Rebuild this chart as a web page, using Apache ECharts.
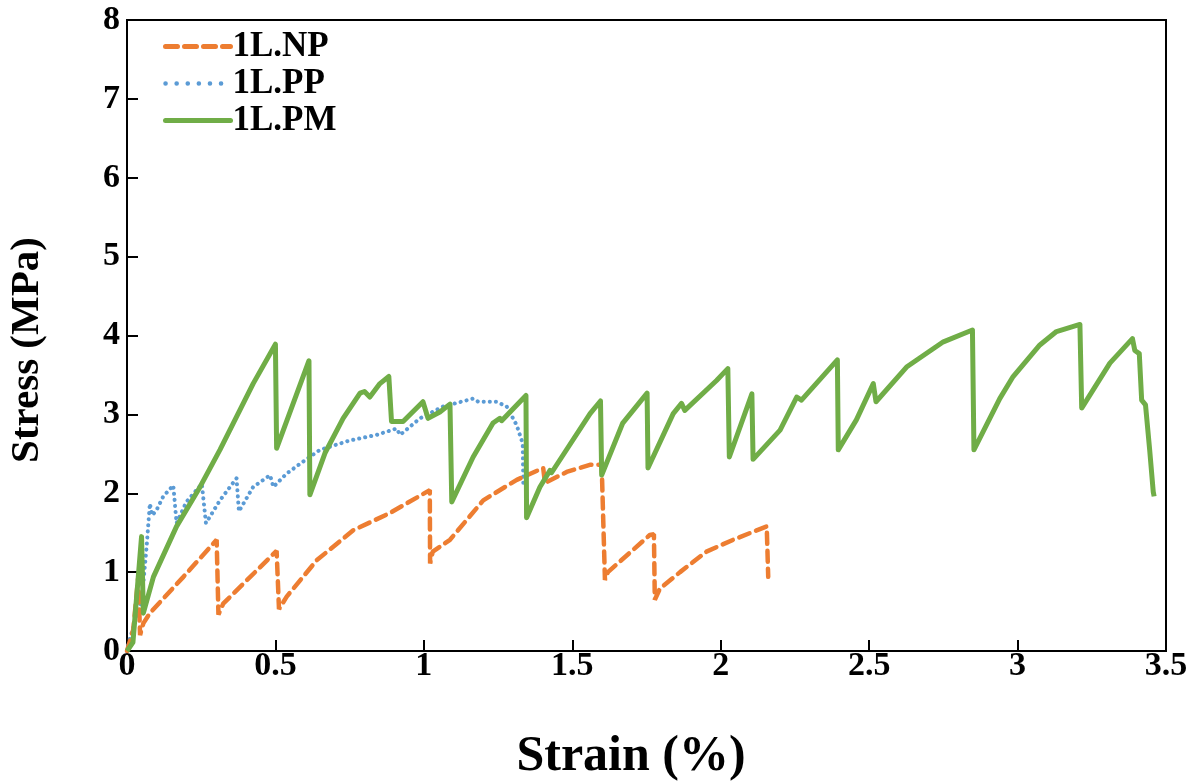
<!DOCTYPE html>
<html>
<head>
<meta charset="utf-8">
<script src="https://cdn.jsdelivr.net/npm/echarts@6/dist/echarts.min.js"></script>
<style>
html,body{margin:0;padding:0;background:#fff;}
#chart{width:1194px;height:783px;}
</style>
</head>
<body>
<div id="chart"></div>
<script>
// ---- Data ----
const seriesNames = ['1L.NP', '1L.PP', '1L.PM'];
const xTicks = [0, 0.5, 1, 1.5, 2, 2.5, 3, 3.5];
const yTicks = [0, 1, 2, 3, 4, 5, 6, 7, 8];

const npStrain = [0, 0.021, 0.038, 0.044, 0.055, 0.077, 0.19, 0.302, 0.308, 0.324, 0.504, 0.512, 0.538, 0.639, 0.762, 0.886, 1.02, 1.021, 1.03, 1.088, 1.2, 1.313, 1.402, 1.408, 1.481, 1.559, 1.599, 1.61, 1.62, 1.761, 1.775, 1.778, 1.795, 1.863, 1.952, 2.042, 2.155, 2.16];
const npStress = [0, 0.27, 0.94, 0.2, 0.35, 0.48, 0.94, 1.41, 0.46, 0.6, 1.27, 0.53, 0.69, 1.15, 1.53, 1.75, 2.04, 1.11, 1.26, 1.41, 1.91, 2.17, 2.32, 2.13, 2.27, 2.36, 2.36, 0.9, 1.0, 1.47, 1.48, 0.65, 0.79, 1.0, 1.26, 1.41, 1.58, 0.94];

const ppStrain = [0, 0.005, 0.05, 0.066, 0.077, 0.085, 0.1, 0.122, 0.156, 0.162, 0.167, 0.2, 0.252, 0.266, 0.313, 0.369, 0.377, 0.425, 0.482, 0.493, 0.538, 0.6, 0.65, 0.751, 0.841, 0.908, 0.92, 0.987, 1.065, 1.166, 1.183, 1.245, 1.279, 1.313, 1.333, 1.335];
const ppStress = [0, 0.1, 0.65, 1.32, 1.87, 1.72, 1.79, 1.96, 2.1, 2.1, 1.62, 1.89, 2.12, 1.62, 1.91, 2.19, 1.77, 2.08, 2.23, 2.08, 2.25, 2.42, 2.55, 2.67, 2.74, 2.82, 2.74, 2.95, 3.1, 3.2, 3.16, 3.16, 3.1, 2.86, 2.63, 2.12];

const pmStrain = [0, 0.02, 0.049, 0.055, 0.089, 0.167, 0.246, 0.313, 0.425, 0.5, 0.504, 0.613, 0.616, 0.667, 0.728, 0.785, 0.8, 0.818, 0.852, 0.882, 0.891, 0.93, 0.997, 1.014, 1.054, 1.088, 1.094, 1.166, 1.233, 1.256, 1.262, 1.344, 1.346, 1.391, 1.425, 1.43, 1.56, 1.595, 1.599, 1.67, 1.752, 1.755, 1.84, 1.868, 1.879, 1.986, 2.024, 2.029, 2.105, 2.109, 2.2, 2.256, 2.272, 2.393, 2.396, 2.457, 2.514, 2.523, 2.626, 2.75, 2.848, 2.853, 2.94, 2.985, 3.075, 3.131, 3.21, 3.216, 3.311, 3.387, 3.395, 3.41, 3.418, 3.431, 3.445, 3.457, 3.46];
const pmStress = [0, 0.11, 1.45, 0.48, 0.94, 1.58, 2.08, 2.55, 3.39, 3.89, 2.57, 3.68, 1.98, 2.51, 2.95, 3.27, 3.29, 3.22, 3.39, 3.48, 2.91, 2.91, 3.16, 2.95, 3.03, 3.13, 1.89, 2.46, 2.89, 2.95, 2.92, 3.24, 1.69, 2.08, 2.29, 2.26, 3.01, 3.17, 2.23, 2.89, 3.27, 2.32, 3.01, 3.14, 3.05, 3.43, 3.58, 2.46, 3.26, 2.43, 2.8, 3.22, 3.18, 3.69, 2.55, 2.93, 3.39, 3.16, 3.6, 3.92, 4.07, 2.55, 3.2, 3.48, 3.88, 4.05, 4.14, 3.08, 3.65, 3.96, 3.81, 3.77, 3.18, 3.12, 2.55, 2.02, 1.96];

const zip = (xs, ys) => xs.map((x, i) => [x, ys[i]]);

const FONT = '"Liberation Serif", "Times New Roman", serif';
const chart = echarts.init(document.getElementById('chart'), null, {renderer: 'canvas'});

chart.setOption({
  backgroundColor: '#fff',
  animation: false,
  grid: {left: 127, right: 28, top: 20, bottom: 132, outerBoundsMode: 'none', containLabel: false,
    show: true, borderColor: '#000', borderWidth: 2, backgroundColor: 'transparent'},
  legend: {
    orient: 'vertical', left: 158, top: 24,
    itemWidth: 65, itemHeight: 14, itemGap: 2,
    itemStyle: {opacity: 0},
    textStyle: {fontFamily: FONT, fontWeight: 'bold', fontSize: 35, lineHeight: 35, color: '#000', padding: [0, 0, 0, -3]},
    data: [
      {name: seriesNames[0], lineStyle: {width: 5, type: [12, 7], cap: 'round', color: '#ED7D31'}},
      {name: seriesNames[1], lineStyle: {width: 4.5, type: [0.1, 11], cap: 'round', color: '#5B9BD5'}},
      {name: seriesNames[2], lineStyle: {width: 5, type: 'solid', cap: 'round', color: '#70AD47'}}
    ]
  },
  xAxis: {
    type: 'value', min: 0, max: 3.5, interval: 0.5,
    name: 'Strain (%)', nameLocation: 'middle', nameGap: 81,
    nameTextStyle: {fontFamily: FONT, fontWeight: 'bold', fontSize: 50, color: '#000', padding: [0, 31, 0, 0]},
    axisLine: {show: true, lineStyle: {color: '#000', width: 2}},
    axisTick: {show: true, inside: true, length: 11, lineStyle: {color: '#000', width: 2}},
    axisLabel: {margin: -2, fontFamily: FONT, fontWeight: 'bold', fontSize: 34, color: '#000',
      formatter: v => xTicks.includes(v) ? String(v) : ''},
    splitLine: {show: false}
  },
  yAxis: {
    type: 'value', min: 0, max: 8, interval: 1,
    name: 'Stress (MPa)', nameLocation: 'middle', nameGap: 79,
    nameTextStyle: {fontFamily: FONT, fontWeight: 'bold', fontSize: 41, color: '#000', padding: [0, 29, 0, 0]},
    axisLine: {show: true, lineStyle: {color: '#000', width: 2}},
    axisTick: {show: true, inside: true, length: 11, lineStyle: {color: '#000', width: 2}},
    axisLabel: {margin: 7, fontFamily: FONT, fontWeight: 'bold', fontSize: 34, color: '#000',
      formatter: v => yTicks.includes(v) ? String(v) : ''},
    splitLine: {show: false}
  },
  series: [
    {name: seriesNames[0], type: 'line', data: zip(npStrain, npStress), symbol: 'none', z: 3,
      lineStyle: {color: '#ED7D31', width: 4.5, type: [11, 7], cap: 'round'}, itemStyle: {color: '#ED7D31'}},
    {name: seriesNames[1], type: 'line', data: zip(ppStrain, ppStress), symbol: 'none', z: 2,
      lineStyle: {color: '#5B9BD5', width: 4, type: [0.1, 6], cap: 'round'}, itemStyle: {color: '#5B9BD5'}},
    {name: seriesNames[2], type: 'line', data: zip(pmStrain, pmStress), symbol: 'none', z: 4,
      lineStyle: {color: '#70AD47', width: 5, type: 'solid', join: 'round'}, itemStyle: {color: '#70AD47'}}
  ]
});
</script>
</body>
</html>
